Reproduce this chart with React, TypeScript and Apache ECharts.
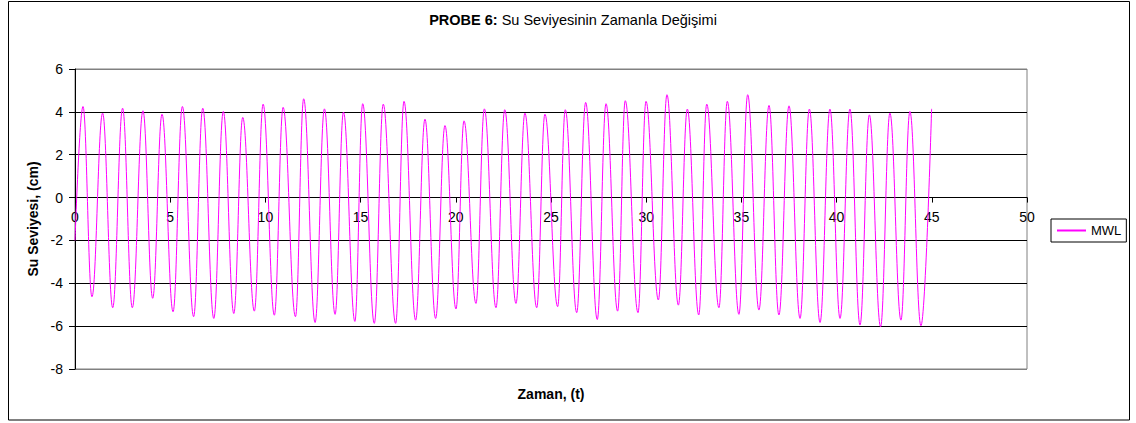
import React, { useEffect, useRef } from "react";
import * as echarts from "echarts";

const FONT = '"Liberation Sans", Arial, Helvetica, sans-serif';

// Time (s) of each turning point of the MWL trace
const times = [
  0, 0.42, 0.89, 1.45, 1.98, 2.5, 3.01, 3.57, 4.08, 4.57, 5.15, 5.64, 6.23, 6.71, 7.29,
  7.79, 8.34, 8.81, 9.42, 9.88, 10.47, 10.93, 11.58, 12.01, 12.61, 13.1, 13.66, 14.1,
  14.7, 15.11, 15.72, 16.19, 16.84, 17.28, 17.89, 18.38, 18.94, 19.43, 20.01, 20.43,
  21.06, 21.5, 22.11, 22.57, 23.16, 23.63, 24.25, 24.68, 25.35, 25.75, 26.35, 26.82,
  27.43, 27.89, 28.5, 28.9, 29.57, 29.99, 30.64, 31.09, 31.69, 32.16, 32.76, 33.18,
  33.82, 34.26, 34.87, 35.33, 35.92, 36.45, 36.97, 37.5, 38.08, 38.57, 39.13, 39.65,
  40.18, 40.7, 41.23, 41.72, 42.31, 42.8, 43.38, 43.85, 44.43, 44.99,
];

// Water level (cm) at those points
const levels = [
  -2.0, 4.25, -4.63, 3.94, -5.14, 4.17, -5.14, 4.05, -4.7, 3.89, -5.33, 4.25, -5.56, 4.17,
  -5.64, 4.02, -5.41, 3.74, -5.3, 4.36, -5.49, 4.21, -5.56, 4.61, -5.83, 4.14, -5.45,
  3.99, -5.78, 4.38, -5.87, 4.36, -5.87, 4.49, -5.72, 3.66, -5.64, 3.36, -5.2, 3.58,
  -4.94, 4.14, -5.14, 4.1, -4.94, 3.94, -5.14, 3.89, -5.09, 4.1, -5.37, 4.44, -5.69,
  4.38, -5.3, 4.52, -5.37, 4.49, -4.78, 4.8, -5.02, 4.13, -5.48, 4.36, -5.14, 4.49,
  -5.45, 4.8, -5.25, 4.3, -5.48, 4.28, -5.64, 4.13, -5.83, 4.13, -5.64, 4.13, -5.95,
  3.86, -6.03, 3.94, -5.72, 4.02, -5.98, 4.14,
];

const xTicks = [0, 5, 10, 15, 20, 25, 30, 35, 40, 45, 50];
const yTicks = [-8, -6, -4, -2, 0, 2, 4, 6];

const seriesName = "MWL";
const titleBold = "PROBE 6:";
const titleRest = "Su Seviyesinin Zamanla Değişimi";
const xTitle = "Zaman, (t)";
const yTitle = "Su Seviyesi, (cm)";

const GRID_TOP = 69;
const GRID_HEIGHT = 300;

export default function App() {
  const ref = useRef<HTMLDivElement>(null);

  useEffect(() => {
    const chart = echarts.init(ref.current!, null, { renderer: "svg" });
    const yMin = yTicks[0];
    const yMax = yTicks[yTicks.length - 1];
    // move the x axis up so that it crosses the y axis at 0
    const zeroOffset = -(GRID_HEIGHT * (0 - yMin)) / (yMax - yMin);
    const gridColors = yTicks.map((_, i) =>
      i === 0 || i === yTicks.length - 1 ? "#808080" : "#000000"
    );
    chart.setOption({
      animation: false,
      backgroundColor: "#ffffff",
      grid: {
        left: 75,
        top: GRID_TOP,
        width: 952,
        height: GRID_HEIGHT,
        show: true,
        borderColor: "#808080",
        borderWidth: 1,
        backgroundColor: "transparent",
      },
      xAxis: {
        type: "value",
        min: xTicks[0],
        max: xTicks[xTicks.length - 1],
        interval: xTicks[1] - xTicks[0],
        position: "bottom",
        offset: zeroOffset,
        axisLine: { show: true, onZero: false, lineStyle: { color: "#000", width: 1 } },
        axisTick: { show: true, length: 5, lineStyle: { color: "#000" } },
        axisLabel: { color: "#000", fontSize: 14, fontFamily: FONT, margin: 12 },
        splitLine: { show: false },
      },
      yAxis: {
        type: "value",
        min: yMin,
        max: yMax,
        interval: yTicks[1] - yTicks[0],
        axisLine: { show: true, lineStyle: { color: "#000", width: 1 } },
        axisTick: { show: true, length: 6, lineStyle: { color: "#000" } },
        axisLabel: { color: "#000", fontSize: 14, fontFamily: FONT, margin: 12 },
        splitLine: { show: true, lineStyle: { color: gridColors, width: 1 } },
      },
      legend: {
        data: [seriesName],
        left: 1051,
        top: 219,
        orient: "vertical",
        borderColor: "#000",
        borderWidth: 1,
        padding: [5, 5, 5, 6],
        icon: "rect",
        itemWidth: 29,
        itemHeight: 2,
        itemGap: 0,
        backgroundColor: "#fff",
        textStyle: { color: "#000", fontSize: 13, fontFamily: FONT },
      },
      series: [
        {
          name: seriesName,
          type: "line",
          data: times.map((t, i) => [t, levels[i]]),
          showSymbol: false,
          symbol: "none",
          smooth: 0.4,
          smoothMonotone: "x",
          lineStyle: { color: "#FF00FF", width: 1 },
          itemStyle: { color: "#FF00FF" },
        },
      ],
      graphic: [
        {
          type: "rect",
          silent: true,
          shape: { x: 8.5, y: 1.5, width: 1121, height: 418.5 },
          style: { fill: "none", stroke: "#000", lineWidth: 1 },
        },
        {
          type: "text",
          silent: true,
          x: 573,
          y: 20,
          style: {
            text: `{b|${titleBold}} ${titleRest}`,
            rich: { b: { fontWeight: "bold", fontSize: 14.5, fontFamily: FONT, fill: "#000" } },
            fontSize: 14.5,
            fontFamily: FONT,
            fill: "#000",
            align: "center",
            verticalAlign: "middle",
          },
        },
        {
          type: "text",
          silent: true,
          x: 551,
          y: 394,
          style: {
            text: xTitle,
            fontSize: 14,
            fontWeight: "bold",
            fontFamily: FONT,
            fill: "#000",
            align: "center",
            verticalAlign: "middle",
          },
        },
        {
          type: "text",
          silent: true,
          x: 33,
          y: 219,
          rotation: Math.PI / 2,
          style: {
            text: yTitle,
            fontSize: 14,
            fontWeight: "bold",
            fontFamily: FONT,
            fill: "#000",
            align: "center",
            verticalAlign: "middle",
          },
        },
      ],
    });
    return () => chart.dispose();
  }, []);

  return (
    <div
      ref={ref}
      style={{ position: "absolute", left: 0, top: 0, width: 1136, height: 423, background: "#fff" }}
    />
  );
}
